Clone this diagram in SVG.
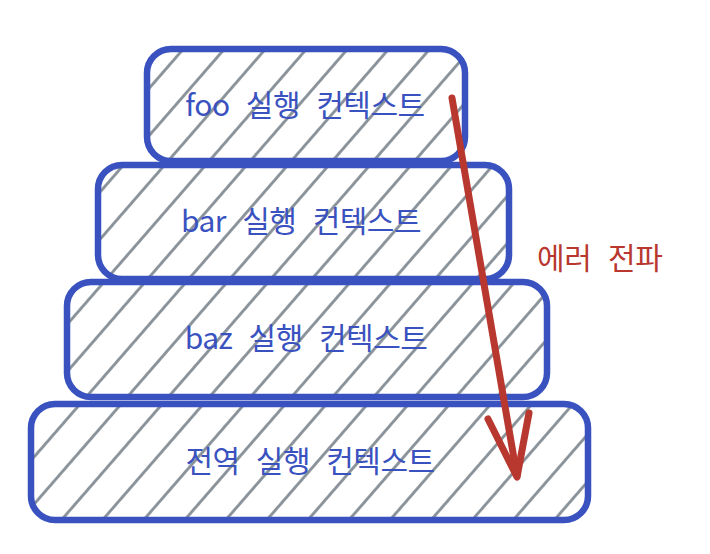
<svg xmlns="http://www.w3.org/2000/svg" width="710" height="554" viewBox="0 0 710 554">
<style>
.box{fill:url(#hatch);stroke:#3a52bf;stroke-width:6.5;stroke-linejoin:round}
.lbl{font-family:"Noto Sans CJK KR","Noto Sans",sans-serif;font-size:30px;fill:#3a52bf;text-anchor:middle;word-spacing:10px;letter-spacing:-0.5px}
.err{font-family:"Noto Sans CJK KR","Noto Sans",sans-serif;font-size:30px;fill:#b8382f;word-spacing:10px;letter-spacing:-0.3px}
.arrow{fill:none;stroke:#b8382f;stroke-width:7;stroke-linecap:round;stroke-linejoin:round}
</style>
<defs>
<pattern id="hatch" patternUnits="userSpaceOnUse" width="31" height="31" patternTransform="rotate(41)">
<line x1="15.5" y1="0" x2="15.5" y2="31" stroke="#868e96" stroke-width="2.8"/>
</pattern>
</defs>
<rect width="710" height="554" fill="#ffffff"/>
<g id="global">
<rect class="box" x="31" y="404" width="557" height="116" rx="24"/>
<text class="lbl" x="310" y="472">전역 실행 컨텍스트</text>
</g>
<g id="baz">
<rect class="box" x="67" y="282" width="480" height="115" rx="24"/>
<text class="lbl" x="306" y="349">baz 실행 컨텍스트</text>
</g>
<g id="bar">
<rect class="box" x="98" y="165" width="411" height="114" rx="24"/>
<text class="lbl" x="301" y="232">bar 실행 컨텍스트</text>
</g>
<g id="foo">
<rect class="box" x="147" y="49" width="318" height="112" rx="24"/>
<text class="lbl" x="305" y="116">foo 실행 컨텍스트</text>
</g>
<g id="connectors">
<path class="arrow" d="M452 98 L517 476"/>
<path class="arrow" d="M488 419 L517 477 L529 413"/>
<text class="err" x="537" y="269">에러 전파</text>
</g>
</svg>
